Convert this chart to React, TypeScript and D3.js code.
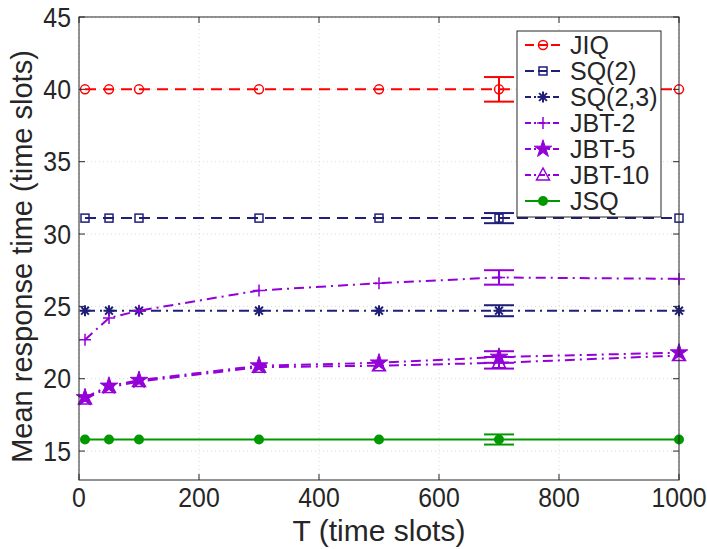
import React from 'react'
import * as d3 from 'd3'

// T values (time slots)
const tValues = [10, 50, 100, 300, 500, 700, 1000];
const xTicks = [0, 200, 400, 600, 800, 1000];
const yTicks = [15, 20, 25, 30, 35, 40, 45];

const jiq = [40.0, 40.0, 40.0, 40.0, 40.0, 40.0, 40.0];
const sq2 = [31.1, 31.1, 31.1, 31.1, 31.1, 31.1, 31.1];
const sq23 = [24.7, 24.7, 24.7, 24.7, 24.7, 24.7, 24.7];
const jbt2 = [22.7, 24.2, 24.7, 26.1, 26.6, 27.0, 26.9];
const jbt5 = [18.7, 19.5, 19.9, 20.9, 21.1, 21.5, 21.8];
const jbt10 = [18.6, 19.4, 19.8, 20.8, 20.9, 21.1, 21.6];
const jsq = [15.8, 15.8, 15.8, 15.8, 15.8, 15.8, 15.8];

// error bars shown at T = 700 (half widths)
const errT = 700;
const errJiq = 0.85, errSq2 = 0.35, errSq23 = 0.38, errJbt2 = 0.5, errJbt5 = 0.4, errJbt10 = 0.4, errJsq = 0.35;

const RED = '#ff0000', NAVY = '#1f1f7a', PURPLE = '#9400d8', GREEN = '#009a00';
const DASH = '11,7', DASHDOT = '10,5,2,5';

type Series = { name: string; values: number[]; color: string; dash: string | null; marker: string; err: number };
const series: Series[] = [
  { name: 'JIQ', values: jiq, color: RED, dash: DASH, marker: 'circle', err: errJiq },
  { name: 'SQ(2)', values: sq2, color: NAVY, dash: DASH, marker: 'square', err: errSq2 },
  { name: 'SQ(2,3)', values: sq23, color: NAVY, dash: DASHDOT, marker: 'asterisk', err: errSq23 },
  { name: 'JBT-2', values: jbt2, color: PURPLE, dash: DASHDOT, marker: 'plus', err: errJbt2 },
  { name: 'JBT-5', values: jbt5, color: PURPLE, dash: DASHDOT, marker: 'star', err: errJbt5 },
  { name: 'JBT-10', values: jbt10, color: PURPLE, dash: DASHDOT, marker: 'triangle', err: errJbt10 },
  { name: 'JSQ', values: jsq, color: GREEN, dash: null, marker: 'dot', err: errJsq },
];

const W = 707, H = 549;
const L = 79, R = 679, T = 17, B = 480;
const FONT = '"Liberation Sans", Arial, Helvetica, sans-serif';
const TXT = '#262626';

const x = d3.scaleLinear().domain([0, 1000]).range([L, R]);
const y = d3.scaleLinear().domain([13, 45]).range([B, T]);

function Marker({ type, cx, cy, color }: { type: string; cx: number; cy: number; color: string }) {
  const sw = 1.5;
  if (type === 'circle') return <circle cx={cx} cy={cy} r={4.5} fill="none" stroke={color} strokeWidth={sw} />;
  if (type === 'dot') return <circle cx={cx} cy={cy} r={5} fill={color} />;
  if (type === 'square') return <rect x={cx - 4} y={cy - 4} width={8} height={8} fill="none" stroke={color} strokeWidth={sw} />;
  if (type === 'plus') return <path d={`M${cx - 6},${cy}H${cx + 6}M${cx},${cy - 6}V${cy + 6}`} stroke={color} strokeWidth={sw} />;
  if (type === 'asterisk') {
    const r = 5.5, d = r * 0.707;
    return <path d={`M${cx - r},${cy}H${cx + r}M${cx},${cy - r}V${cy + r}M${cx - d},${cy - d}L${cx + d},${cy + d}M${cx - d},${cy + d}L${cx + d},${cy - d}`} stroke={color} strokeWidth={2} />;
  }
  if (type === 'star') {
    const p = d3.symbol(d3.symbolStar, 95)();
    return <path d={p || ''} transform={`translate(${cx},${cy})`} fill={color} stroke={color} strokeWidth={1} />;
  }
  if (type === 'triangle') {
    return <path d={`M${cx},${cy - 7}L${cx + 6.5},${cy + 5}L${cx - 6.5},${cy + 5}Z`} fill="none" stroke={color} strokeWidth={sw} />;
  }
  return null;
}

export default function App() {
  const line = d3.line<number>().x((_, i) => x(tValues[i])).y(v => y(v));
  const errIdx = tValues.indexOf(errT);
  const cap = 15;
  const legX = 517, legY = 31, legW = 144, legH = 186, rowH = 26;

  return (
    <svg width={W} height={H} style={{ position: 'absolute', left: 0, top: 0, background: '#fff' }} fontFamily={FONT}>
      <rect x={0} y={0} width={W} height={H} fill="#fff" />
      {/* grid */}
      {xTicks.map(t => (
        <line key={'gx' + t} x1={x(t)} x2={x(t)} y1={T} y2={B} stroke="#d9d9d9" strokeWidth={1} strokeDasharray="1,3" />
      ))}
      {yTicks.map(t => (
        <line key={'gy' + t} x1={L} x2={R} y1={y(t)} y2={y(t)} stroke="#d9d9d9" strokeWidth={1} strokeDasharray="1,3" />
      ))}
      {/* series */}
      {series.map(s => (
        <g key={s.name}>
          <path d={line(s.values) || ''} fill="none" stroke={s.color} strokeWidth={2} strokeDasharray={s.dash || undefined} />
          {s.values.map((v, i) => (i === errIdx ? null : <Marker key={i} type={s.marker} cx={x(tValues[i])} cy={y(v)} color={s.color} />))}
          <g stroke={s.color} strokeWidth={2}>
            <line x1={x(errT)} x2={x(errT)} y1={y(s.values[errIdx] - s.err)} y2={y(s.values[errIdx] + s.err)} />
            <line x1={x(errT) - cap} x2={x(errT) + cap} y1={y(s.values[errIdx] - s.err)} y2={y(s.values[errIdx] - s.err)} />
            <line x1={x(errT) - cap} x2={x(errT) + cap} y1={y(s.values[errIdx] + s.err)} y2={y(s.values[errIdx] + s.err)} />
          </g>
          <Marker type={s.marker} cx={x(errT)} cy={y(s.values[errIdx])} color={s.color} />
        </g>
      ))}
      {/* axes box */}
      <rect x={L} y={T} width={R - L} height={B - T} fill="none" stroke={TXT} strokeWidth={1} />
      {xTicks.map(t => (
        <g key={'tx' + t}>
          <line x1={x(t)} x2={x(t)} y1={B} y2={B - 6} stroke={TXT} />
          <line x1={x(t)} x2={x(t)} y1={T} y2={T + 6} stroke={TXT} />
          <text transform={`translate(${x(t)},507) scale(0.92,1)`} textAnchor="middle" fontSize={27} fill={TXT}>{t}</text>
        </g>
      ))}
      {yTicks.map(t => (
        <g key={'ty' + t}>
          <line x1={L} x2={L + 6} y1={y(t)} y2={y(t)} stroke={TXT} />
          <line x1={R} x2={R - 6} y1={y(t)} y2={y(t)} stroke={TXT} />
          <text transform={`translate(71,${y(t) + 9.5}) scale(0.92,1)`} textAnchor="end" fontSize={27} fill={TXT}>{t}</text>
        </g>
      ))}
      <text x={(L + R) / 2} y={541} textAnchor="middle" fontSize={30} fill={TXT}>T (time slots)</text>
      <text transform={`translate(32,${(T + B) / 2 + 8}) rotate(-90)`} textAnchor="middle" fontSize={29} fill={TXT}>Mean response time (time slots)</text>
      {/* legend */}
      <rect x={legX} y={legY} width={legW} height={legH} fill="#fff" stroke={TXT} strokeWidth={1} />
      {series.map((s, i) => {
        const cy = legY + 14 + i * rowH;
        return (
          <g key={'lg' + s.name}>
            <line x1={legX + 8} x2={legX + 43} y1={cy} y2={cy} stroke={s.color} strokeWidth={2} strokeDasharray={s.dash ? (s.dash === DASH ? '9,4' : '6,3,2,3') : undefined} />
            <Marker type={s.marker} cx={legX + 26} cy={cy} color={s.color} />
            <text x={legX + 53} y={cy + 9} fontSize={25} fill={TXT}>{s.name}</text>
          </g>
        );
      })}
    </svg>
  );
}
